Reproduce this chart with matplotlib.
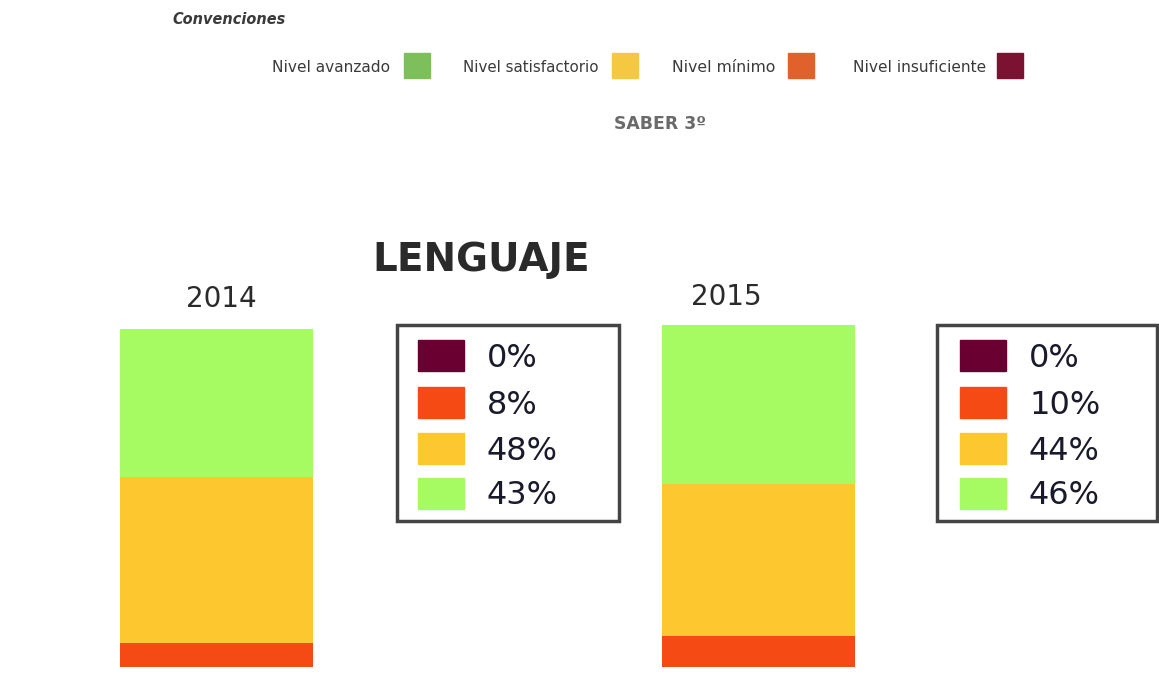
import matplotlib
matplotlib.use("Agg")
import matplotlib.pyplot as plt
from matplotlib.patches import Rectangle

# ---- data ----
years = ["2014", "2015"]
levels = ["Nivel insuficiente", "Nivel mínimo", "Nivel satisfactorio", "Nivel avanzado"]
insuficiente = [0, 0]
minimo = [8, 10]
satisfactorio = [48, 44]
avanzado = [43, 46]
subject = "LENGUAJE"
header = "SABER 3º"
conv_title = "Convenciones"

bar_colors = ["#6a0032", "#f64a15", "#fcc72f", "#a6fb62"]
conv_colors = ["#7b1232", "#e0622a", "#f5c842", "#7dbf5a"]

W, H = 1159, 685
fig = plt.figure(figsize=(W / 100, H / 100), dpi=100)
renderer = fig.canvas.get_renderer()


def fx(px):
    return px / W


def fy(py):
    return 1 - py / H


def fit_text(t, target_w):
    bb = t.get_window_extent(renderer)
    t.set_fontsize(t.get_fontsize() * target_w / bb.width)


# ---- header / conventions ----
t = fig.text(fx(172), fy(20), conv_title, fontsize=12, fontweight="bold",
             fontstyle="italic", color="#3a3a3a", va="center", ha="left")
fit_text(t, 113)

conv_items = [(levels[3], conv_colors[3], 272, 389, 404),
              (levels[2], conv_colors[2], 463, 598, 612),
              (levels[1], conv_colors[1], 672, 775, 788),
              (levels[0], conv_colors[0], 853, 985, 997)]
for label, col, tx, tx2, sx in conv_items:
    t = fig.text(fx(tx), fy(67), label, fontsize=12, color="#3a3a3a",
                 va="center", ha="left")
    fit_text(t, tx2 - tx)
    fig.patches.append(Rectangle((fx(sx), fy(78)), fx(26), 25 / H, color=col,
                                 transform=fig.transFigure, figure=fig))

t = fig.text(fx(660), fy(124), header, fontsize=14, fontweight="bold",
             color="#6a6a6a", va="center", ha="center")
fit_text(t, 92)

fig.text(fx(481), fy(260), subject, fontsize=28, fontweight="bold", color="#2a2a2a",
         va="center", ha="center")

# ---- bars ----
ax = fig.add_axes([0, fy(667), 1, (667 - 320) / H])
x = [0, 1]
bw = 0.356
stack = [insuficiente, minimo, satisfactorio, avanzado]
bottom = [0, 0]
for vals, col in zip(stack, bar_colors):
    ax.bar(x, vals, bw, bottom=bottom, color=col, linewidth=0)
    bottom = [b + v for b, v in zip(bottom, vals)]
ax.set_xlim(-0.4, 1.74)
ax.set_ylim(1, 1 + 347 / 3.45)
ax.axis("off")

# year labels
for yr, px, py in zip(years, [221, 726], [299, 297]):
    fig.text(fx(px), fy(py), yr, fontsize=20, color="#2a2a2a", va="center", ha="center")

# ---- value boxes ----
boxes = [(397, 325, 222, 196, 418), (937, 325, 220, 196, 960)]
row_y = [356, 403, 449, 494]
for i, (bx, by, bwid, bht, sx) in enumerate(boxes):
    fig.patches.append(Rectangle((fx(bx), fy(by + bht)), bwid / W, bht / H,
                                 facecolor="white", edgecolor="#444444", linewidth=2.5,
                                 transform=fig.transFigure, figure=fig))
    for j, vals in enumerate(stack):
        ry = row_y[j]
        fig.patches.append(Rectangle((fx(sx), fy(ry + 15)), 46 / W, 31 / H,
                                     color=bar_colors[j], transform=fig.transFigure,
                                     figure=fig))
        fig.text(fx(sx + 69), fy(ry + 2), f"{vals[i]}%", fontsize=23, color="#1a1a2a",
                 va="center", ha="left")

fig.savefig("out.png", dpi=100, facecolor="white")
